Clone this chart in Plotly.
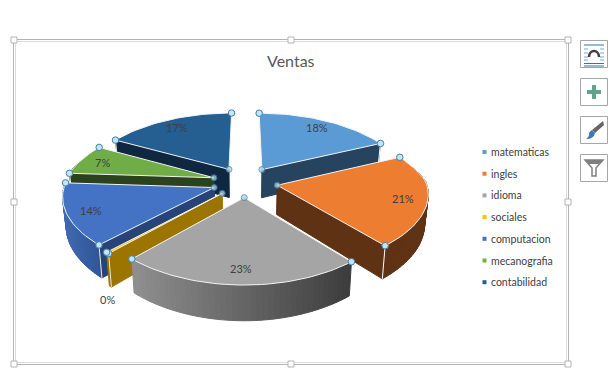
import math
import plotly.graph_objects as go

# ---- data ----
categories = ["matematicas", "ingles", "idioma", "sociales", "computacion", "mecanografia", "contabilidad"]
ventas = [18, 21, 23, 0.3, 14, 7, 17]
title_text = "Ventas"

# ---- style ----
top_colors = ["#5b9bd5", "#ed7d31", "#a5a5a5", "#ffc000", "#4472c4", "#70ad47", "#255e91"]
side_colors = ["#264360", "#5f3213", "#5a5a5a", "#9c7400", "#264478", "#2a431c", "#0f2740"]
rim_left = ["#264360", "#5f3213", "#8f8f8f", "#9c7400", "#4069b0", "#2a431c", "#0f2740"]
rim_right = ["#264360", "#5f3213", "#3c3c3c", "#9c7400", "#2f5597", "#2a431c", "#0f2740"]
draw_order = [6, 0, 5, 4, 3, 1, 2]

CX, CY = 245, 182       # pie centre in pixels
RX, RY = 149, 68.6      # ellipse radii
PERSP = 0.154           # perspective strength (vertical)
PERSP_X_NEAR = 0.108    # perspective strength (horizontal, front half)
PERSP_X_FAR = 0.2       # perspective strength (horizontal, back half)
EXPLODE = 0.22
DEPTH = 29
START = 0
INK = "#404040"
FONT = "Lato"


def hex_mix(a, b, t):
    ca = [int(a[i:i + 2], 16) for i in (1, 3, 5)]
    cb = [int(b[i:i + 2], 16) for i in (1, 3, 5)]
    return "#%02x%02x%02x" % tuple(round(x + (y - x) * t) for x, y in zip(ca, cb))


def project(U, V):
    """Disc coordinates to pixels, with perspective; near points grow."""
    ky = 1 / (1 - PERSP * V)
    kx = 1 / (1 - (PERSP_X_NEAR if V > 0 else PERSP_X_FAR) * V)
    return CX + RX * U * kx, CY + RY * V * ky, ky


def lower(x, y, k):
    return CX + (x - CX) * 0.98, y + DEPTH * k


def unit(theta):
    r = math.radians(theta)
    return math.sin(r), -math.cos(r)


total = sum(ventas)
edges = [START]
for v in ventas:
    edges.append(edges[-1] + v / total * 360)

wedges = []
for i in range(len(ventas)):
    a0, a1 = edges[i], edges[i + 1]
    mu, mv = unit((a0 + a1) / 2)
    wedges.append((a0, a1, EXPLODE * mu, EXPLODE * mv))

fig = go.Figure()


def poly(xs, ys, fill, line=None, width=1):
    fig.add_trace(go.Scatter(x=xs, y=ys, mode="lines", fill="toself", fillcolor=fill,
                             line=dict(color=line or fill, width=width),
                             hoverinfo="skip", showlegend=False))


handles_x, handles_y, tips_x, tips_y = [], [], [], []

for i in draw_order:
    a0, a1, ou, ov = wedges[i]
    tx, ty, tk = project(ou, ov)
    n = max(2, int((a1 - a0) / 2))
    angles = [a0 + (a1 - a0) * j / n for j in range(n + 1)]
    rim = []
    front = []
    for a in angles:
        u, v = unit(a)
        rim.append(project(ou + u, ov + v))
        front.append(v)

    tb = lower(tx, ty, tk)
    # radial walls
    if math.sin(math.radians(a0)) < 0:
        b = lower(*rim[0])
        poly([tx, rim[0][0], b[0], tb[0], tx], [ty, rim[0][1], b[1], tb[1], ty], side_colors[i])
    if math.sin(math.radians(a1)) > 0:
        b = lower(*rim[-1])
        poly([tx, rim[-1][0], b[0], tb[0], tx], [ty, rim[-1][1], b[1], tb[1], ty], side_colors[i])

    # outer wall, one strip per colour step
    xmin, xmax = min(p[0] for p in rim), max(p[0] for p in rim)
    for j in range(n):
        p, q = rim[j], rim[j + 1]
        if (front[j] + front[j + 1]) / 2 < -0.2:
            continue
        pb, qb = lower(*p), lower(*q)
        t = ((p[0] + q[0]) / 2 - xmin) / max(1, xmax - xmin)
        poly([p[0], q[0], qb[0], pb[0], p[0]], [p[1], q[1], qb[1], pb[1], p[1]],
             hex_mix(rim_left[i], rim_right[i], t))

    # pale seams on wall corners
    if math.sin(math.radians(a1)) > 0:
        b = lower(*rim[-1])
        fig.add_trace(go.Scatter(x=[rim[-1][0], b[0]], y=[rim[-1][1], b[1]], mode="lines",
                                 line=dict(color="#ffffff", width=1), hoverinfo="skip", showlegend=False))
    if math.sin(math.radians(a0)) < 0:
        b = lower(*rim[0])
        fig.add_trace(go.Scatter(x=[rim[0][0], b[0]], y=[rim[0][1], b[1]], mode="lines",
                                 line=dict(color="#e8e8e8", width=1), hoverinfo="skip", showlegend=False))

    # top face
    xs = [tx] + [p[0] for p in rim] + [tx]
    ys = [ty] + [p[1] for p in rim] + [ty]
    poly(xs, ys, top_colors[i], line="#f4f4f4", width=1)

    handles_x += [rim[0][0], rim[-1][0]]
    handles_y += [rim[0][1], rim[-1][1]]
    tips_x.append(tx)
    tips_y.append(ty)

# selection handles on every slice
fig.add_trace(go.Scatter(x=tips_x, y=tips_y, mode="markers", hoverinfo="skip", showlegend=False,
                         marker=dict(size=6, color="#a9d3e4", opacity=0.75,
                                     line=dict(color="#3f7fb0", width=1))))
fig.add_trace(go.Scatter(x=handles_x, y=handles_y, mode="markers", hoverinfo="skip", showlegend=False,
                         marker=dict(size=6.5, color="#c3e6f3", line=dict(color="#3f7fb0", width=1))))

# data labels
annotations = []
for i, v in enumerate(ventas):
    a0, a1, ou, ov = wedges[i]
    pct = round(v / total * 100)
    inside = pct > 0
    r = 0.84 if inside else 1.0
    u, v2 = unit((a0 + a1) / 2)
    lx, ly, _ = project(ou + r * u, ov + r * v2)
    annotations.append(dict(x=lx, y=ly + (0 if inside else 47), text=f"{pct}%", showarrow=False,
                            font=dict(family=FONT, size=11, color=INK)))

# legend
LEG_X, LEG_Y, LEG_STEP = 484.5, 152, 21.7
fig.add_trace(go.Scatter(
    x=[LEG_X] * len(categories), y=[LEG_Y + LEG_STEP * i for i in range(len(categories))],
    mode="markers", hoverinfo="skip", showlegend=False,
    marker=dict(symbol="square", size=4, color=top_colors, line=dict(width=0))))
for i, name in enumerate(categories):
    annotations.append(dict(x=LEG_X + 4, y=LEG_Y + LEG_STEP * i, text=name, showarrow=False, xanchor="left",
                            font=dict(family=FONT, size=10.5, color=INK)))

annotations.append(dict(x=291, y=60.5, text=title_text, showarrow=False,
                        font=dict(family=FONT, size=16, color="#595959")))

# chart frame and side buttons
shapes = [
    dict(type="rect", x0=13.5, y0=39.5, x1=568.5, y1=364.5, line=dict(color="#b4b4b4", width=1)),
    dict(type="rect", x0=15.5, y0=41.5, x1=566.5, y1=362.5, line=dict(color="#dcdcdc", width=1)),
]
for hx in (14, 291, 568):
    for hy in (40, 202, 364):
        if hx == 291 and hy == 202:
            continue
        shapes.append(dict(type="rect", x0=hx - 3, y0=hy - 3, x1=hx + 3, y1=hy + 3,
                           fillcolor="#ffffff", line=dict(color="#b4b4b4", width=1)))
for top in (40, 78, 116, 154):
    shapes.append(dict(type="rect", x0=580.5, y0=top + .5, x1=607.5, y1=top + 27.5,
                       fillcolor="#ffffff", line=dict(color="#a6a6a6", width=1)))
for ly in (45, 63.5, 66):
    shapes.append(dict(type="line", x0=584, x1=604, y0=ly, y1=ly, line=dict(color="#2e75b6", width=1)))
for ly in (49, 53, 57, 60):
    shapes.append(dict(type="line", x0=584, x1=588, y0=ly, y1=ly, line=dict(color="#7fa7d0", width=1)))
    shapes.append(dict(type="line", x0=600, x1=604, y0=ly, y1=ly, line=dict(color="#7fa7d0", width=1)))
shapes.append(dict(type="path", path="M 589 57 C 589 49, 599 49, 599 57", line=dict(color="#404040", width=2.5)))
shapes.append(dict(type="path", path="M 592 85 H 596 V 90 H 601 V 94 H 596 V 99 H 592 V 94 H 587 V 90 H 592 Z",
                   fillcolor="#5fa58e", line=dict(width=0)))
shapes.append(dict(type="path", path="M 603 121 L 604 125 L 595 133 L 592 130 Z", fillcolor="#666666", line=dict(width=0)))
shapes.append(dict(type="path", path="M 592 130 L 595 133 Q 594 139 586 139 Q 590 136 589 133 Q 590 131 592 130 Z",
                   fillcolor="#3f78b8", line=dict(width=0)))
shapes.append(dict(type="path", path="M 585 160 H 603 L 596 168 V 176 H 592 V 168 Z",
                   fillcolor="#ffffff", line=dict(color="#7f7f7f", width=1.5)))
shapes.append(dict(type="path", path="M 585 160 H 603 L 599 164 H 589 Z", fillcolor="#7f7f7f", line=dict(width=0)))

fig.update_layout(
    width=611, height=387, margin=dict(l=0, r=0, t=0, b=0), paper_bgcolor="#ffffff", plot_bgcolor="#ffffff",
    xaxis=dict(range=[0, 611], visible=False, fixedrange=True),
    yaxis=dict(range=[387, 0], visible=False, fixedrange=True),
    annotations=annotations, shapes=shapes, showlegend=False, hovermode=False,
)
fig.write_html("out.html", config={"displayModeBar": False},
               post_script="document.body.style.margin='0';")
